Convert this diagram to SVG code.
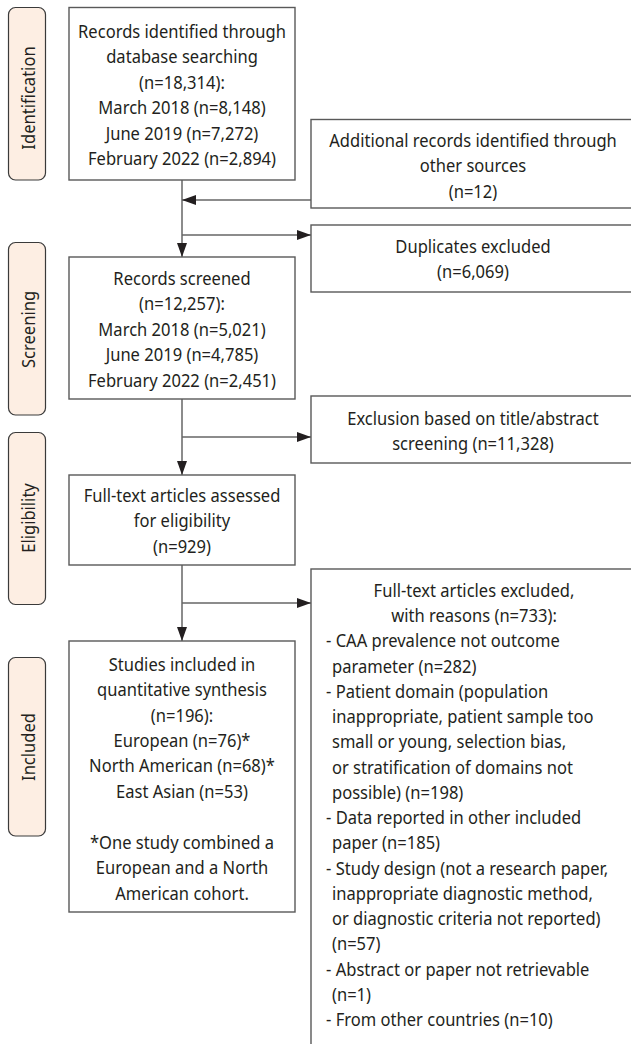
<svg xmlns="http://www.w3.org/2000/svg" width="631" height="1044" viewBox="0 0 631 1044">
<defs>
<marker id="ah" markerUnits="userSpaceOnUse" markerWidth="15" markerHeight="11" refX="14" refY="5" orient="auto">
<path d="M0,0 L14,5 L0,10 z" fill="#231f20"/>
</marker>
<style>
.box{fill:#fff;stroke:#595959;stroke-width:1.4}
.lab{fill:#fdeee3;stroke:#3a3a3a;stroke-width:1.2}
.t{font-family:"Noto Sans","Open Sans",sans-serif;font-size:18px;fill:#231f20}
.c{text-anchor:middle}
.ln{fill:none;stroke:#666;stroke-width:1.5}
.arr{fill:none;stroke:#666;stroke-width:1.5;marker-end:url(#ah)}
</style>
</defs>
<rect width="631" height="1044" fill="#fff"/>

<g id="label-identification">
<rect class="lab" x="8.5" y="7.5" width="37" height="172.5" rx="7"/>
<text class="t c" transform="translate(34.5 98) rotate(-90) scale(0.92 1)">Identification</text>
</g>
<g id="label-screening">
<rect class="lab" x="8.5" y="242.5" width="37" height="172.5" rx="7"/>
<text class="t c" transform="translate(34.5 329.5) rotate(-90) scale(0.92 1)">Screening</text>
</g>
<g id="label-eligibility">
<rect class="lab" x="8.5" y="432.5" width="37" height="172" rx="7"/>
<text class="t c" transform="translate(34.5 518) rotate(-90) scale(0.92 1)">Eligibility</text>
</g>
<g id="label-included">
<rect class="lab" x="8.5" y="657.5" width="37" height="178.5" rx="7"/>
<text class="t c" transform="translate(34.5 747) rotate(-90) scale(0.92 1)">Included</text>
</g>

<g id="connectors">
<line class="ln" x1="182" y1="180" x2="182" y2="245"/>
<line class="arr" x1="182" y1="245" x2="182" y2="257"/>
<line class="arr" x1="311" y1="200" x2="182" y2="200"/>
<line class="arr" x1="182" y1="235" x2="311" y2="235"/>
<line class="arr" x1="182" y1="399" x2="182" y2="475"/>
<line class="arr" x1="182" y1="437" x2="311" y2="437"/>
<line class="arr" x1="182" y1="565" x2="182" y2="641"/>
<line class="arr" x1="182" y1="603" x2="311" y2="603"/>
</g>

<g id="node-records-identified">
<rect class="box" x="69" y="7.5" width="226" height="172.5"/>
<g transform="translate(182 0) scale(0.92 1)">
<text class="t c" x="0" y="38">Records identified through</text>
<text class="t c" x="0" y="63.5">database searching</text>
<text class="t c" x="0" y="89">(n=18,314):</text>
<text class="t c" x="0" y="114.5">March 2018 (n=8,148)</text>
<text class="t c" x="0" y="140">June 2019 (n=7,272)</text>
<text class="t c" x="0" y="165.5">February 2022 (n=2,894)</text>
</g>
</g>

<g id="node-additional">
<rect class="box" x="311" y="119.5" width="330" height="88.5"/>
<g transform="translate(473 0) scale(0.92 1)">
<text class="t c" x="0" y="147">Additional records identified through</text>
<text class="t c" x="0" y="172.5">other sources</text>
<text class="t c" x="0" y="198">(n=12)</text>
</g>
</g>

<g id="node-duplicates">
<rect class="box" x="311" y="225" width="330" height="67"/>
<g transform="translate(473 0) scale(0.92 1)">
<text class="t c" x="0" y="253">Duplicates excluded</text>
<text class="t c" x="0" y="278.5">(n=6,069)</text>
</g>
</g>

<g id="node-screened">
<rect class="box" x="69" y="257" width="226" height="142"/>
<g transform="translate(182 0) scale(0.92 1)">
<text class="t c" x="0" y="285">Records screened</text>
<text class="t c" x="0" y="310.5">(n=12,257):</text>
<text class="t c" x="0" y="336">March 2018 (n=5,021)</text>
<text class="t c" x="0" y="361.5">June 2019 (n=4,785)</text>
<text class="t c" x="0" y="387">February 2022 (n=2,451)</text>
</g>
</g>

<g id="node-exclusion">
<rect class="box" x="311" y="396" width="330" height="67"/>
<g transform="translate(473 0) scale(0.92 1)">
<text class="t c" x="0" y="425">Exclusion based on title/abstract</text>
<text class="t c" x="0" y="450.5">screening (n=11,328)</text>
</g>
</g>

<g id="node-fulltext">
<rect class="box" x="69" y="475" width="226" height="90"/>
<g transform="translate(182 0) scale(0.92 1)">
<text class="t c" x="0" y="502">Full-text articles assessed</text>
<text class="t c" x="0" y="527.5">for eligibility</text>
<text class="t c" x="0" y="553">(n=929)</text>
</g>
</g>

<g id="node-excluded-reasons">
<rect class="box" x="311" y="569" width="330" height="490"/>
<g transform="translate(474 0) scale(0.92 1)">
<text class="t c" x="0" y="597">Full-text articles excluded,</text>
<text class="t c" x="0" y="622.2">with reasons (n=733):</text>
</g>
<g transform="translate(326 0) scale(0.92 1)">
<text class="t" x="0" y="647.5">- CAA prevalence not outcome</text>
<text class="t" x="6.5" y="672.7">parameter (n=282)</text>
<text class="t" x="0" y="698">- Patient domain (population</text>
<text class="t" x="6.5" y="723.2">inappropriate, patient sample too</text>
<text class="t" x="6.5" y="748.5">small or young, selection bias,</text>
<text class="t" x="6.5" y="773.7">or stratification of domains not</text>
<text class="t" x="6.5" y="799">possible) (n=198)</text>
<text class="t" x="0" y="824.2">- Data reported in other included</text>
<text class="t" x="6.5" y="849.5">paper (n=185)</text>
<text class="t" x="0" y="874.7">- Study design (not a research paper,</text>
<text class="t" x="6.5" y="900">inappropriate diagnostic method,</text>
<text class="t" x="6.5" y="925.2">or diagnostic criteria not reported)</text>
<text class="t" x="6.5" y="950.5">(n=57)</text>
<text class="t" x="0" y="975.7">- Abstract or paper not retrievable</text>
<text class="t" x="6.5" y="1001">(n=1)</text>
<text class="t" x="0" y="1026.2">- From other countries (n=10)</text>
</g>
</g>

<g id="node-included">
<rect class="box" x="69" y="641" width="226" height="271"/>
<g transform="translate(182 0) scale(0.92 1)">
<text class="t c" x="0" y="671">Studies included in</text>
<text class="t c" x="0" y="696.5">quantitative synthesis</text>
<text class="t c" x="0" y="722">(n=196):</text>
<text class="t c" x="0" y="747">European (n=76)*</text>
<text class="t c" x="0" y="772.5">North American (n=68)*</text>
<text class="t c" x="0" y="798">East Asian (n=53)</text>
<text class="t c" x="0" y="849">*One study combined a</text>
<text class="t c" x="0" y="874.5">European and a North</text>
<text class="t c" x="0" y="900">American cohort.</text>
</g>
</g>
</svg>
